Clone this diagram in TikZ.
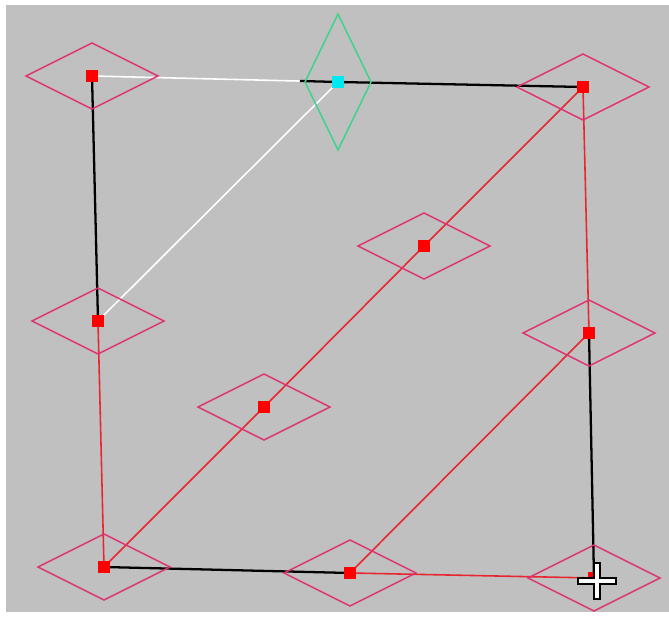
\documentclass[tikz,border=0pt]{standalone}
\usepackage{tikz}
\usepackage{xcolor}
\definecolor{bggray}{RGB}{192,192,192}
\definecolor{handlepink}{RGB}{222,50,115}
\definecolor{edgered}{RGB}{232,38,48}
\definecolor{pivotgreen}{RGB}{60,212,140}
\definecolor{pivotcyan}{RGB}{0,232,240}

\begin{document}
\begin{tikzpicture}[x=0.02cm,y=-0.02cm,
  vtx/.style={fill=red,minimum size=0.24cm,inner sep=0pt},
  handle/.style={draw=handlepink,line width=0.85pt},
  blk/.style={draw=black,line width=1.3pt},
  red/.style={draw=edgered,line width=0.9pt},
  wht/.style={draw=white,line width=0.9pt}]
  \useasboundingbox (0,0) rectangle (669,617);
  \fill[bggray] (6,5) rectangle (669,612);
  % points of the quad
  \coordinate (tl) at (92,76); \coordinate (pv) at (338,82); \coordinate (tr) at (583,87);
  \coordinate (ml) at (98,321); \coordinate (mr) at (589,333);
  \coordinate (bl) at (104,567); \coordinate (bm) at (350,573); \coordinate (br) at (594,578);
  \coordinate (c1) at (424,246); \coordinate (c2) at (264,407);
  \coordinate (wk) at (300,81);
  % edges
  \draw[wht] (tl) -- (pv); \draw[blk] (wk) -- (pv) -- (tr);
  \draw[wht] (pv) -- (ml);
  \draw[blk] (tl) -- (ml); \draw[red] (ml) -- (bl);
  \draw[blk] (bl) -- (bm); \draw[red] (bm) -- (br);
  \draw[blk] (br) -- (mr); \draw[red] (mr) -- (tr);
  \draw[red] (bl) -- (c2) -- (c1) -- (tr); \draw[red] (bm) -- (mr);
  % handles
  \foreach \p in {tl,tr,ml,mr,bl,bm,br,c1,c2}
    \draw[handle] (\p) +(-66,0) -- +(0,-33) -- +(66,0) -- +(0,33) -- cycle;
  \draw[draw=pivotgreen,line width=0.85pt] (pv) +(-33,0) -- +(0,-68) -- +(33,0) -- +(0,68) -- cycle;
  % vertices
  \foreach \p in {tl,tr,ml,mr,bl,bm,br,c1,c2} \node[vtx] (v\p) at (\p) {};
  \node[fill=pivotcyan,minimum size=0.24cm,inner sep=0pt] (vpv) at (pv) {};
  % cursor
  \draw[fill=white,draw=black,line width=0.6pt] (597,581) +(-3,-18) -- +(3,-18) -- +(3,-3) -- +(19,-3) -- +(19,3) -- +(3,3) -- +(3,18) -- +(-3,18) -- +(-3,3) -- +(-19,3) -- +(-19,-3) -- +(-3,-3) -- cycle;
\end{tikzpicture}
\end{document}
